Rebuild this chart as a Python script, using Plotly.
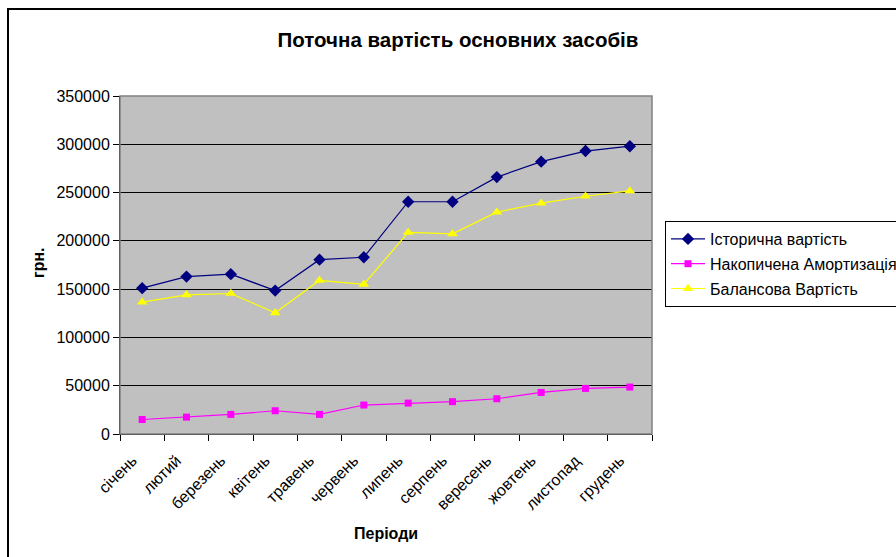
import plotly.graph_objects as go

months = ["січень", "лютий", "березень", "квітень", "травень", "червень",
          "липень", "серпень", "вересень", "жовтень", "листопад", "грудень"]
historical = [151000, 163000, 165500, 148500, 180500, 183000,
              240500, 240500, 266000, 282000, 293000, 298000]
amortization = [15000, 17500, 20300, 24100, 20300, 30000,
                32000, 33500, 36500, 43000, 47200, 48600]
balance = [136500, 144000, 145500, 125500, 159000, 155000,
           208700, 207300, 229700, 239000, 246200, 251700]

series_names = ["Історична вартість", "Накопичена Амортизація", "Балансова Вартість"]

FONT = "Liberation Sans, Arial, sans-serif"

# plot area in pixels
L, R, T, B = 120, 652, 96, 434
W, H = 896, 557
pw, ph = R - L, B - T

def px(x):
    return (x - L) / pw

def py(y):
    return (B - y) / ph

fig = go.Figure()
fig.add_trace(go.Scatter(
    x=months, y=historical, name=series_names[0], mode="lines+markers",
    line=dict(color="#000080", width=1.2),
    marker=dict(symbol="diamond", size=9.5, color="#000080"),
    legendgroup="a"))
fig.add_trace(go.Scatter(
    x=months, y=amortization, name=series_names[1], mode="lines+markers",
    line=dict(color="#FF00FF", width=1.2),
    marker=dict(symbol="square", size=7, color="#FF00FF"),
    legendgroup="b"))
fig.add_trace(go.Scatter(
    x=months, y=balance, name=series_names[2], mode="lines+markers",
    line=dict(color="#FFFF00", width=1.2),
    marker=dict(symbol="triangle-up", size=9.5, color="#FFFF00"),
    legendgroup="c"))

fig.update_layout(
    width=W, height=H,
    margin=dict(l=L, r=W - R, t=T, b=H - B, pad=0, autoexpand=False),
    paper_bgcolor="white",
    plot_bgcolor="#C0C0C0",
    font=dict(family=FONT, size=16, color="black"),
    title=dict(text="<b>Поточна вартість основних засобів</b>",
               font=dict(family=FONT, size=20.5, color="black"),
               xref="paper", x=px(458), xanchor="center",
               yref="container", y=1 - 40 / H, yanchor="middle"),
    showlegend=True,
    legend=dict(x=px(665), y=py(221), xanchor="left", yanchor="top",
                bordercolor="black", borderwidth=1, bgcolor="white",
                font=dict(family=FONT, size=16, color="black"),
                tracegroupgap=1, itemwidth=34),
    xaxis=dict(type="category", range=[-0.5, 11.5],
               tickangle=-45, tickson="boundaries",
               ticks="outside", ticklen=6, tickcolor="black",
               ticklabelstandoff=10, ticklabelshift=-10,
               showline=True, linecolor="black", linewidth=1,
               showgrid=False, mirror=False,
               tickfont=dict(family=FONT, size=16, color="black")),
    yaxis=dict(range=[0, 350000], dtick=50000, tickformat="d",
               ticks="outside", ticklen=6, tickcolor="black",
               showline=True, linecolor="black", linewidth=1,
               showgrid=True, gridcolor="black", gridwidth=1,
               zeroline=False,
               tickfont=dict(family=FONT, size=16, color="black")),
    annotations=[
        dict(text="<b>грн.</b>", xref="paper", yref="paper",
             x=px(38), y=py(263), xanchor="center", yanchor="middle",
             textangle=-90, showarrow=False,
             font=dict(family=FONT, size=16, color="black")),
        dict(text="<b>Періоди</b>", xref="paper", yref="paper",
             x=px(386), y=py(533), xanchor="center", yanchor="middle",
             showarrow=False,
             font=dict(family=FONT, size=16, color="black")),
    ],
    shapes=[
        # outer chart border
        dict(type="rect", xref="paper", yref="paper",
             x0=px(8), x1=px(905), y0=py(566), y1=py(9),
             line=dict(color="black", width=2), layer="below"),
        # plot frame (top/right in gray)
        dict(type="rect", xref="paper", yref="paper",
             x0=0, x1=1, y0=0, y1=1,
             line=dict(color="#808080", width=1.5), layer="above"),
    ],
)

fig.write_html("out.html")
